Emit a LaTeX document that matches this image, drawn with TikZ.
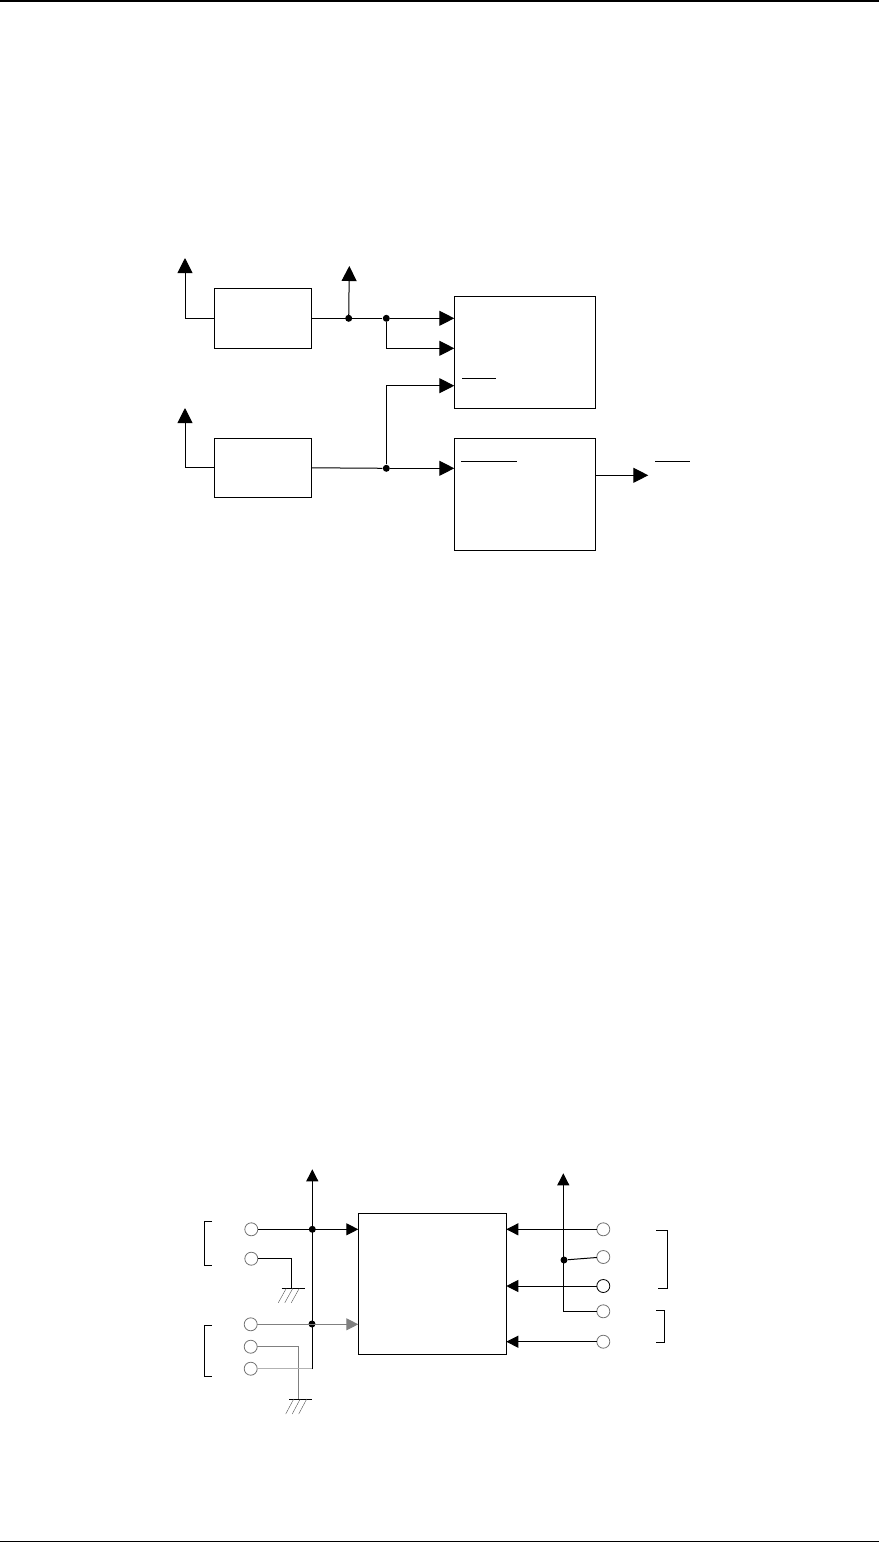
\documentclass[tikz,border=0pt]{standalone}
\usepackage{tikz}
\usetikzlibrary{arrows.meta,positioning,calc}

\begin{document}
\begin{tikzpicture}[
    x=1pt, y=-1pt,
    node distance=30pt,
    line width=1pt,
    block/.style={rectangle, draw, inner sep=0pt, outer sep=0pt},
    smallblock/.style={block, minimum width=97.4pt},
    bigblock/.style={block, minimum width=141pt, minimum height=112pt},
    junction/.style={circle, fill=black, inner sep=0pt, minimum size=7pt},
    pin/.style={circle, draw=black!55, line width=0.8pt, fill=white, inner sep=0pt, outer sep=0pt, minimum size=13pt},
    line/.style={draw, -{Triangle[length=15pt, width=15pt]}},
    smallline/.style={draw, -{Triangle[length=12pt, width=12pt]}},
    greyline/.style={draw=black!50},
    earth/.style={draw, line width=0.6pt}
]
    \useasboundingbox (0,0) rectangle (879,1543);
    \draw [line width=3pt] (0,0.5) -- (879,0.5);
    \draw (0,1541.5) -- (879,1541.5);

    % upper diagram
    \node [smallblock, minimum height=60pt, anchor=north west] (supplya) at (214.3,288.3) {};
    \node [smallblock, minimum height=59pt, below=90pt of supplya] (supplyb) {};
    \node [bigblock, anchor=north west] (logica) at (454.3,296.3) {};
    \node [bigblock, below=of logica] (logicb) {};

    \node [junction] (taila) at (348.7,318.3) {};
    \node [junction] (forka) at (386.3,318.3) {};
    \node [junction] (forkb) at (386.3,468.3) {};

    \coordinate (upa) at (185,258);
    \coordinate (upb) at (349.3,266);
    \coordinate (upc) at (185,408);
    \coordinate (out) at (648.3,475.3);
    \coordinate (midy) at (386.3,348.3);
    \coordinate (highy) at (386.3,385.7);

    \draw [line] (supplya.west) -| (upa);
    \draw [line] (supplyb.west) -| (upc);
    \draw [line] (taila.center) -- (upb);
    \draw (supplya.east) -- (forka);
    \draw (supplyb.east) -- (forkb);
    \draw [line] (forka) -- (forka -| logica.west);
    \draw [line] (forka) |- (midy -| logica.west);
    \draw [line] (forkb) |- (highy -| logica.west);
    \draw [line] (forkb) -- (forkb -| logicb.west);
    \draw [line] (out -| logicb.east) -- (out);

    \draw (462.3,378.3) -- (496.3,378.3);
    \draw (461,461.3) -- (517,461.3);
    \draw (655.3,461.3) -- (689.7,461.3);

    % lower diagram
    \node [block, minimum width=148pt, minimum height=140.7pt, anchor=north west] (chip) at (358.3,1213.3) {};

    \node [pin] (pa) at (251.3,1229.3) {};
    \node [pin, below=16.4pt of pa] (pb) {};
    \node [pin] (pc) at (250.7,1324.3) {};
    \node [pin, below=9.4pt of pc] (pd) {};
    \node [pin, below=9pt of pd] (pe) {};

    \node [pin] (qa) at (603.3,1229.3) {};
    \node [pin, below=14.7pt of qa] (qb) {};
    \node [pin, draw=black, below=16pt of qb] (qc) {};
    \node [pin, below=12.3pt of qc] (qd) {};
    \node [pin, below=17.4pt of qd] (qe) {};

    \node [junction] (ja) at (312.3,1229.3) {};
    \node [junction] (jb) at (312,1324) {};
    \node [junction] (jc) at (564,1260) {};

    \coordinate (topl) at (312.3,1169.3);
    \coordinate (topr) at (563.3,1173.3);
    \coordinate (groundl) at (291.3,1288.3);
    \coordinate (groundr) at (298.7,1399);

    \draw [smallline] (312.3,1369.3) -- (topl);
    \draw [smallline] (563.3,1311.3) -- (topr);

    \draw [smallline] (pa) -- (pa -| chip.west);
    \draw [smallline, greyline] (pc) -- (pc -| chip.west);
    \draw (pb) -| (groundl);
    \draw [greyline] (pd) -| (groundr);
    \draw [draw=black!30] (pe) -- (312.3,1368.7);

    \draw [smallline] (qa) -- (qa -| chip.east);
    \draw [smallline] (qc) -- (qc -| chip.east);
    \draw [smallline] (qe) -- (qe -| chip.east);
    \draw (qb) -- (jc);
    \draw (qd) -- (563.3,1311.3);

    % earth symbols
    \draw [earth] (281.7,1288.3) -- (305,1288.3);
    \foreach \x in {0,6.5,13}
        \draw [earth, draw=black!70, line width=0.4pt] ($(groundl)+(\x-13,14.4)$) -- ($(groundl)+(\x-5,0)$);
    \draw [earth] (289,1399) -- (312,1399);
    \foreach \x in {0,6.5,13}
        \draw [earth, draw=black!70, line width=0.4pt] ($(groundr)+(\x-13,15)$) -- ($(groundr)+(\x-5,0)$);

    % brackets
    \draw (212,1221.3) -| (204.7,1265.3) -- (212,1265.3);
    \draw (212,1325) -| (204.7,1376.3) -- (212,1376.3);
    \draw (656,1230.7) -| (667.3,1288) -- (658.3,1288);
    \draw (656,1310.3) -| (664.7,1342) -- (656,1342);
\end{tikzpicture}
\end{document}
